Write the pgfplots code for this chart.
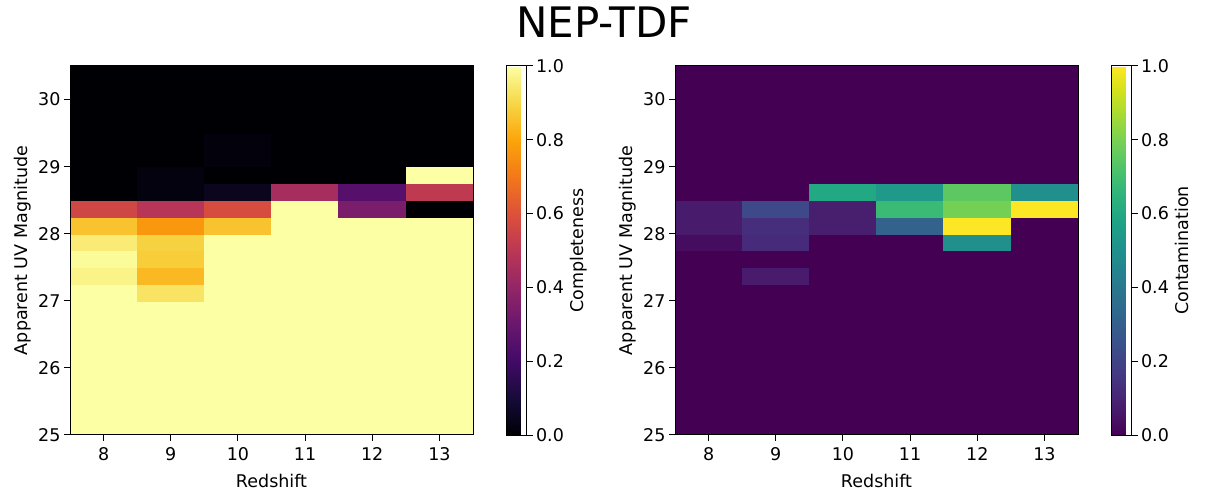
\documentclass[border=0pt]{standalone}
\usepackage{fontspec}
\setmainfont{DejaVu Sans}
\usepackage{pgfplots}
\pgfplotsset{compat=1.18}
\pgfplotsset{colormap={inferno}{rgb255=(0,0,4) rgb255=(22,11,57) rgb255=(66,10,104) rgb255=(106,23,110) rgb255=(147,38,103) rgb255=(187,55,84) rgb255=(221,81,58) rgb255=(243,120,25) rgb255=(252,165,10) rgb255=(246,215,70) rgb255=(252,255,164)}}
\newcommand{\fs}{\fontsize{17.5}{21}\selectfont}
\pgfplotsset{
  heat/.style={
    scale only axis, width=403pt, height=369pt,
    xmin=7.5, xmax=13.5, ymin=25, ymax=30.5,
    xtick={8,9,10,11,12,13}, ytick={25,26,27,28,29,30},
    tick align=outside, tick pos=left, major tick length=6pt,
    axis on top, axis line style={line width=1pt}, every tick/.style={line width=1pt, black},
    point meta min=0, point meta max=1,
    ticklabel style={font=\fs},
    label style={font=\fs},
    xticklabel shift=3pt, xlabel shift=7pt,
    /pgf/number format/assume math mode=true,
    xlabel={Redshift}, ylabel={Apparent UV Magnitude},
    colorbar,
    colorbar style={
      at={(parent axis.north east)}, anchor=north west, xshift=25pt,
      scale only axis, width=20pt, height=369pt,
      ytick={0,0.2,0.4,0.6,0.8,1.0},
      yticklabel style={font=\fs, /pgf/number format/.cd, fixed, fixed zerofill, precision=1},
      /pgf/number format/assume math mode=true,
      tick align=outside, major tick length=6pt, ytick pos=right, yticklabel pos=right,
      axis line style={line width=1pt}, every tick/.style={line width=1pt, black},
      label style={font=\fs}, ylabel shift=-1pt,
    },
  }
}
\begin{document}
\begin{tikzpicture}
\path[use as bounding box] (0,0) rectangle (1207pt,497pt);
\node[font=\fontsize{42}{48}\selectfont] at (604pt,475pt) {NEP-TDF};
\begin{axis}[heat, at={(70pt,62pt)}, anchor=south west, colormap name=inferno,
  colorbar style={ylabel={Completeness}}]
\addplot[matrix plot*, mesh/cols=6, point meta=explicit] coordinates {
(8,25.125)[1] (9,25.125)[1] (10,25.125)[1] (11,25.125)[1] (12,25.125)[1] (13,25.125)[1]
(8,25.375)[1] (9,25.375)[1] (10,25.375)[1] (11,25.375)[1] (12,25.375)[1] (13,25.375)[1]
(8,25.625)[1] (9,25.625)[1] (10,25.625)[1] (11,25.625)[1] (12,25.625)[1] (13,25.625)[1]
(8,25.875)[1] (9,25.875)[1] (10,25.875)[1] (11,25.875)[1] (12,25.875)[1] (13,25.875)[1]
(8,26.125)[1] (9,26.125)[1] (10,26.125)[1] (11,26.125)[1] (12,26.125)[1] (13,26.125)[1]
(8,26.375)[1] (9,26.375)[1] (10,26.375)[1] (11,26.375)[1] (12,26.375)[1] (13,26.375)[1]
(8,26.625)[1] (9,26.625)[1] (10,26.625)[1] (11,26.625)[1] (12,26.625)[1] (13,26.625)[1]
(8,26.875)[1] (9,26.875)[1] (10,26.875)[1] (11,26.875)[1] (12,26.875)[1] (13,26.875)[1]
(8,27.125)[1] (9,27.125)[0.93] (10,27.125)[1] (11,27.125)[1] (12,27.125)[1] (13,27.125)[1]
(8,27.375)[0.97] (9,27.375)[0.84] (10,27.375)[1] (11,27.375)[1] (12,27.375)[1] (13,27.375)[1]
(8,27.625)[0.99] (9,27.625)[0.88] (10,27.625)[1] (11,27.625)[1] (12,27.625)[1] (13,27.625)[1]
(8,27.875)[0.95] (9,27.875)[0.89] (10,27.875)[1] (11,27.875)[1] (12,27.875)[1] (13,27.875)[1]
(8,28.125)[0.86] (9,28.125)[0.77] (10,28.125)[0.86] (11,28.125)[1] (12,28.125)[1] (13,28.125)[1]
(8,28.375)[0.56] (9,28.375)[0.49] (10,28.375)[0.58] (11,28.375)[1] (12,28.375)[0.34] (13,28.375)[0]
(8,28.625)[0] (9,28.625)[0.02] (10,28.625)[0.05] (11,28.625)[0.445] (12,28.625)[0.25] (13,28.625)[0.51]
(8,28.875)[0] (9,28.875)[0.02] (10,28.875)[0] (11,28.875)[0] (12,28.875)[0] (13,28.875)[1]
(8,29.125)[0] (9,29.125)[0] (10,29.125)[0.015] (11,29.125)[0] (12,29.125)[0] (13,29.125)[0]
(8,29.375)[0] (9,29.375)[0] (10,29.375)[0.015] (11,29.375)[0] (12,29.375)[0] (13,29.375)[0]
(8,29.625)[0] (9,29.625)[0] (10,29.625)[0] (11,29.625)[0] (12,29.625)[0] (13,29.625)[0]
(8,29.875)[0] (9,29.875)[0] (10,29.875)[0] (11,29.875)[0] (12,29.875)[0] (13,29.875)[0]
(8,30.125)[0] (9,30.125)[0] (10,30.125)[0] (11,30.125)[0] (12,30.125)[0] (13,30.125)[0]
(8,30.375)[0] (9,30.375)[0] (10,30.375)[0] (11,30.375)[0] (12,30.375)[0] (13,30.375)[0]
};
\end{axis}
\begin{axis}[heat, at={(675pt,62pt)}, anchor=south west, colormap/viridis,
  colorbar style={ylabel={Contamination}}]
\addplot[matrix plot*, mesh/cols=6, point meta=explicit] coordinates {
(8,25.125)[0] (9,25.125)[0] (10,25.125)[0] (11,25.125)[0] (12,25.125)[0] (13,25.125)[0]
(8,25.375)[0] (9,25.375)[0] (10,25.375)[0] (11,25.375)[0] (12,25.375)[0] (13,25.375)[0]
(8,25.625)[0] (9,25.625)[0] (10,25.625)[0] (11,25.625)[0] (12,25.625)[0] (13,25.625)[0]
(8,25.875)[0] (9,25.875)[0] (10,25.875)[0] (11,25.875)[0] (12,25.875)[0] (13,25.875)[0]
(8,26.125)[0] (9,26.125)[0] (10,26.125)[0] (11,26.125)[0] (12,26.125)[0] (13,26.125)[0]
(8,26.375)[0] (9,26.375)[0] (10,26.375)[0] (11,26.375)[0] (12,26.375)[0] (13,26.375)[0]
(8,26.625)[0] (9,26.625)[0] (10,26.625)[0] (11,26.625)[0] (12,26.625)[0] (13,26.625)[0]
(8,26.875)[0] (9,26.875)[0] (10,26.875)[0] (11,26.875)[0] (12,26.875)[0] (13,26.875)[0]
(8,27.125)[0] (9,27.125)[0] (10,27.125)[0] (11,27.125)[0] (12,27.125)[0] (13,27.125)[0]
(8,27.375)[0] (9,27.375)[0.07] (10,27.375)[0] (11,27.375)[0] (12,27.375)[0] (13,27.375)[0]
(8,27.625)[0] (9,27.625)[0] (10,27.625)[0] (11,27.625)[0] (12,27.625)[0] (13,27.625)[0]
(8,27.875)[0.03] (9,27.875)[0.12] (10,27.875)[0] (11,27.875)[0] (12,27.875)[0.5] (13,27.875)[0]
(8,28.125)[0.07] (9,28.125)[0.13] (10,28.125)[0.08] (11,28.125)[0.31] (12,28.125)[1] (13,28.125)[0]
(8,28.375)[0.07] (9,28.375)[0.22] (10,28.375)[0.08] (11,28.375)[0.68] (12,28.375)[0.79] (13,28.375)[1]
(8,28.625)[0] (9,28.625)[0] (10,28.625)[0.6] (11,28.625)[0.54] (12,28.625)[0.75] (13,28.625)[0.5]
(8,28.875)[0] (9,28.875)[0] (10,28.875)[0] (11,28.875)[0] (12,28.875)[0] (13,28.875)[0]
(8,29.125)[0] (9,29.125)[0] (10,29.125)[0] (11,29.125)[0] (12,29.125)[0] (13,29.125)[0]
(8,29.375)[0] (9,29.375)[0] (10,29.375)[0] (11,29.375)[0] (12,29.375)[0] (13,29.375)[0]
(8,29.625)[0] (9,29.625)[0] (10,29.625)[0] (11,29.625)[0] (12,29.625)[0] (13,29.625)[0]
(8,29.875)[0] (9,29.875)[0] (10,29.875)[0] (11,29.875)[0] (12,29.875)[0] (13,29.875)[0]
(8,30.125)[0] (9,30.125)[0] (10,30.125)[0] (11,30.125)[0] (12,30.125)[0] (13,30.125)[0]
(8,30.375)[0] (9,30.375)[0] (10,30.375)[0] (11,30.375)[0] (12,30.375)[0] (13,30.375)[0]
};
\end{axis}
\end{tikzpicture}
\end{document}
